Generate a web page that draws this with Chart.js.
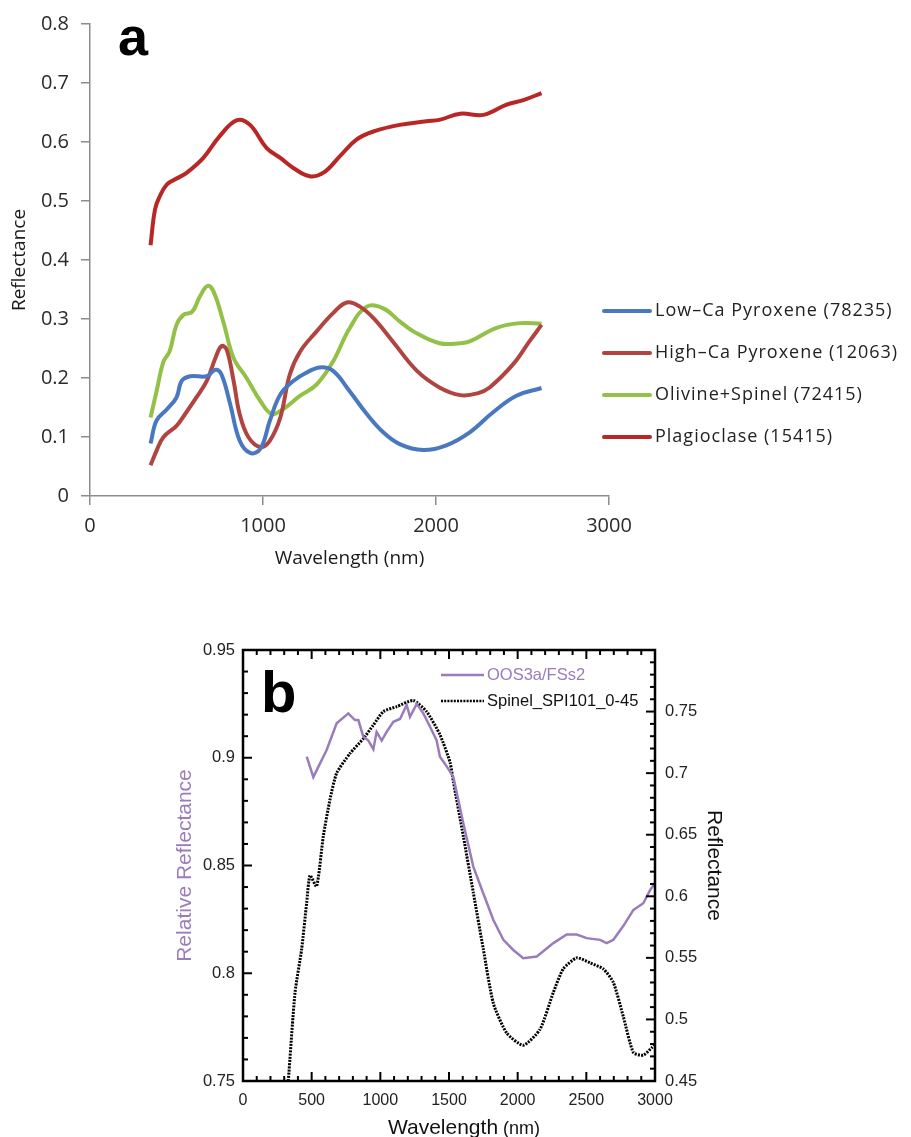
<!DOCTYPE html>
<html>
<head>
<meta charset="utf-8">
<script src="https://cdn.jsdelivr.net/npm/chart.js@4.4.0/dist/chart.umd.min.js"></script>
<style>
  body { margin: 0; background: #fff; }
  #wrap { position: relative; width: 911px; height: 1137px; overflow: hidden; }
  canvas { position: absolute; left: 0; }
  #chartA { top: 0; }
  #chartB { top: 600px; }
</style>
</head>
<body>
<div id="wrap">
  <canvas id="chartA" width="911" height="590"></canvas>
  <canvas id="chartB" width="911" height="537"></canvas>
</div>
<script>
// ---- panel a data (wavelength nm / reflectance) ----
const lowCaWl   = [350, 385, 445, 500, 530, 580, 675, 725, 760, 810, 865, 925, 985, 1040, 1100, 1175, 1250, 1330, 1405, 1500, 1600, 1695, 1790, 1925, 2060, 2195, 2330, 2465, 2610];
const lowCaRefl = [0.089, 0.128, 0.147, 0.167, 0.195, 0.203, 0.203, 0.214, 0.206, 0.156, 0.094, 0.073, 0.080, 0.128, 0.172, 0.195, 0.209, 0.218, 0.212, 0.178, 0.139, 0.108, 0.088, 0.078, 0.086, 0.108, 0.142, 0.170, 0.183];

const highCaWl   = [350, 385, 425, 500, 550, 615, 675, 725, 760, 790, 830, 865, 915, 985, 1040, 1100, 1155, 1215, 1310, 1405, 1485, 1560, 1640, 1750, 1890, 2020, 2140, 2240, 2310, 2445, 2540, 2610];
const highCaRefl = [0.052, 0.077, 0.100, 0.119, 0.139, 0.167, 0.195, 0.234, 0.254, 0.248, 0.195, 0.139, 0.100, 0.083, 0.094, 0.133, 0.206, 0.245, 0.279, 0.310, 0.328, 0.321, 0.301, 0.262, 0.212, 0.184, 0.171, 0.174, 0.184, 0.223, 0.262, 0.290];

const olivineWl   = [350, 385, 425, 460, 500, 540, 590, 635, 680, 715, 770, 830, 905, 985, 1050, 1115, 1215, 1310, 1405, 1500, 1600, 1695, 1790, 1870, 2020, 2140, 2195, 2350, 2485, 2610];
const olivineRefl = [0.133, 0.178, 0.228, 0.245, 0.290, 0.307, 0.312, 0.338, 0.356, 0.346, 0.296, 0.234, 0.200, 0.161, 0.139, 0.147, 0.170, 0.189, 0.228, 0.284, 0.321, 0.318, 0.296, 0.279, 0.259, 0.259, 0.262, 0.285, 0.293, 0.292];

const plagWl   = [350, 376, 405, 445, 500, 560, 655, 750, 850, 925, 1020, 1100, 1175, 1270, 1350, 1445, 1540, 1640, 1790, 1945, 2025, 2140, 2275, 2405, 2505, 2610];
const plagRefl = [0.425, 0.486, 0.509, 0.528, 0.538, 0.548, 0.573, 0.610, 0.637, 0.629, 0.590, 0.573, 0.556, 0.542, 0.548, 0.576, 0.604, 0.618, 0.629, 0.635, 0.638, 0.648, 0.646, 0.663, 0.671, 0.683];

const seriesNamesA = ['Low\u2013Ca Pyroxene (78235)', 'High\u2013Ca Pyroxene (12063)', 'Olivine+Spinel (72415)', 'Plagioclase (15415)'];

// ---- panel b data ----
const spinelWl   = [330, 379, 427, 464, 488, 536, 585, 634, 682, 779, 876, 949, 1022, 1119, 1240, 1337, 1435, 1507, 1532, 1604, 1677, 1750, 1823, 1920, 2041, 2163, 2260, 2332, 2430, 2527, 2624, 2697, 2770, 2843, 2915, 2976, 3000];
const spinelRefl = [0.450, 0.522, 0.557, 0.595, 0.617, 0.608, 0.649, 0.679, 0.700, 0.716, 0.728, 0.739, 0.750, 0.754, 0.759, 0.750, 0.731, 0.709, 0.693, 0.649, 0.603, 0.557, 0.513, 0.489, 0.479, 0.492, 0.522, 0.541, 0.550, 0.546, 0.541, 0.530, 0.502, 0.473, 0.471, 0.477, 0.480];

const oosWl   = [464, 512, 609, 682, 767, 815, 840, 876, 913, 949, 973, 1010, 1046, 1095, 1143, 1192, 1216, 1265, 1313, 1362, 1410, 1434, 1483, 1532, 1604, 1677, 1750, 1823, 1896, 1968, 2041, 2139, 2260, 2357, 2430, 2503, 2600, 2648, 2697, 2770, 2843, 2915, 2964, 3000];
const oosRefl = [0.9005, 0.891, 0.9036, 0.916, 0.9206, 0.9175, 0.9175, 0.9098, 0.908, 0.904, 0.912, 0.908, 0.912, 0.9167, 0.918, 0.9245, 0.919, 0.925, 0.9206, 0.9144, 0.908, 0.9005, 0.896, 0.891, 0.8696, 0.8495, 0.837, 0.8247, 0.8155, 0.8108, 0.807, 0.8078, 0.814, 0.818, 0.818, 0.8163, 0.8155, 0.814, 0.8155, 0.822, 0.8294, 0.8325, 0.8386, 0.8418];

const seriesNamesB = ['OOS3a/FSs2', 'Spinel_SPI101_0-45'];

const pts = (xs, ys) => xs.map((x, i) => ({ x: x, y: ys[i] }));
const plain = v => String(Number(v.toFixed(2)));

// ---------- panel a ----------
const axisGray = '#8c8c8c';
const fontA = '"Open Sans", sans-serif';

const panelA = {
  id: 'panelA',
  afterDraw(chart) {
    const ctx = chart.ctx;
    ctx.save();
    ctx.fillStyle = '#000';
    ctx.font = 'bold 54px "Liberation Sans", Arial, sans-serif';
    ctx.fillText('a', 118, 55);

    ctx.font = '18px ' + fontA;
    ctx.letterSpacing = '1px';
    ctx.textBaseline = 'middle';
    chart.data.datasets.forEach((ds, i) => {
      const y = 311 + i * 42;
      ctx.strokeStyle = ds.borderColor;
      ctx.lineWidth = 4;
      ctx.lineCap = 'round';
      ctx.beginPath();
      ctx.moveTo(604, y);
      ctx.lineTo(650, y);
      ctx.stroke();
      ctx.fillStyle = '#222';
      ctx.fillText(ds.label, 655, y);
    });
    ctx.restore();
  }
};

const colorsA = ['#4a78c0', '#b04441', '#93c047', '#b82626'];
const dataA = [pts(lowCaWl, lowCaRefl), pts(highCaWl, highCaRefl), pts(olivineWl, olivineRefl), pts(plagWl, plagRefl)];

new Chart(document.getElementById('chartA'), {
  type: 'line',
  data: {
    datasets: dataA.map((d, i) => ({
      label: seriesNamesA[i],
      data: d,
      borderColor: colorsA[i],
      borderWidth: 4,
      pointRadius: 0,
      tension: 0.4,
      fill: false
    }))
  },
  options: {
    responsive: false,
    animation: false,
    layout: { padding: { top: 20, right: 302, left: 0, bottom: 0 } },
    plugins: { legend: { display: false }, tooltip: { enabled: false } },
    scales: {
      x: {
        type: 'linear', min: 0, max: 3000,
        ticks: { stepSize: 1000, color: '#2a2a2a', font: { family: fontA, size: 20 }, padding: 9, callback: v => String(v) },
        grid: { drawOnChartArea: false, tickLength: 9, color: axisGray, lineWidth: 1.5 },
        border: { color: axisGray, width: 1.5 },
        title: { display: true, text: 'Wavelength (nm)', color: '#1a1a1a', font: { family: fontA, size: 19 }, padding: { top: 0, bottom: 20 } },
        afterFit: s => { s.height = 94; }
      },
      y: {
        min: 0, max: 0.8,
        ticks: { stepSize: 0.1, color: '#2a2a2a', font: { family: fontA, size: 20 }, padding: 12, callback: plain },
        grid: { drawOnChartArea: false, tickLength: 9, color: axisGray, lineWidth: 1.5 },
        border: { color: axisGray, width: 1.5 },
        title: { display: true, text: 'Reflectance', color: '#1a1a1a', font: { family: fontA, size: 19 }, padding: { top: 8, bottom: 0 } },
        afterFit: s => { s.width = 90; }
      }
    }
  },
  plugins: [panelA]
});

// ---------- panel b ----------
const fontB = '"Liberation Sans", Arial, sans-serif';
const purple = '#9b7cba';

const panelB = {
  id: 'panelB',
  afterDatasetsDraw(chart) {
    const { ctx, chartArea: a, scales } = chart;
    ctx.save();
    ctx.strokeStyle = '#000';
    ctx.lineCap = 'butt';
    const seg = (x1, y1, x2, y2) => { ctx.beginPath(); ctx.moveTo(x1, y1); ctx.lineTo(x2, y2); ctx.stroke(); };

    ctx.lineWidth = 2;
    for (let k = 0; k <= 30; k++) {
      const x = scales.x.getPixelForValue(k * 100);
      const len = k % 5 === 0 ? 9 : 5;
      seg(x, a.bottom, x, a.bottom - len);
      seg(x, a.top, x, a.top + len);
    }
    for (let k = 0; k <= 20; k++) {
      const y = scales.y.getPixelForValue(0.75 + k * 0.01);
      seg(a.left, y, a.left + (k % 5 === 0 ? 9 : 5), y);
    }
    for (let k = 0; k <= 35; k++) {
      const y = scales.y1.getPixelForValue(0.45 + k * 0.01);
      seg(a.right, y, a.right - (k % 5 === 0 ? 9 : 5), y);
    }
    ctx.lineWidth = 2.5;
    ctx.strokeRect(a.left, a.top, a.right - a.left, a.bottom - a.top);

    // legend
    ctx.font = '16.5px ' + fontB;
    ctx.textBaseline = 'middle';
    chart.data.datasets.forEach((ds, i) => {
      const y = 75 + i * 26;
      ctx.strokeStyle = ds.borderColor;
      ctx.lineWidth = 2.5;
      ctx.setLineDash(ds.borderDash || []);
      seg(441, y, 484, y);
      ctx.setLineDash([]);
      ctx.fillStyle = i === 0 ? purple : '#111';
      ctx.fillText(ds.label, 487, y);
    });

    // panel letter
    ctx.textBaseline = 'alphabetic';
    ctx.fillStyle = '#000';
    ctx.font = 'bold 58px ' + fontB;
    ctx.fillText('b', 261, 112);

    // x title with smaller unit
    ctx.fillStyle = '#111';
    ctx.font = '21px ' + fontB;
    const w1 = ctx.measureText('Wavelength').width;
    ctx.font = '18px ' + fontB;
    const w2 = ctx.measureText(' (nm)').width;
    const x0 = (a.left + a.right) / 2 + 15 - (w1 + w2) / 2;
    ctx.font = '21px ' + fontB;
    ctx.fillText('Wavelength', x0, 534);
    ctx.font = '18px ' + fontB;
    ctx.fillText(' (nm)', x0 + w1, 534);
    ctx.restore();
  }
};

new Chart(document.getElementById('chartB'), {
  type: 'line',
  data: {
    datasets: [
      {
        label: seriesNamesB[0],
        data: pts(oosWl, oosRefl),
        yAxisID: 'y',
        borderColor: purple,
        borderWidth: 2.5,
        pointRadius: 0,
        tension: 0,
        fill: false
      },
      {
        label: seriesNamesB[1],
        data: pts(spinelWl, spinelRefl),
        yAxisID: 'y1',
        borderColor: '#000',
        borderWidth: 3,
        borderDash: [2, 1.2],
        pointRadius: 0,
        tension: 0.2,
        fill: false
      }
    ]
  },
  options: {
    responsive: false,
    animation: false,
    layout: { padding: { top: 50, right: 0, left: 0, bottom: 0 } },
    plugins: { legend: { display: false }, tooltip: { enabled: false } },
    scales: {
      x: {
        type: 'linear', min: 0, max: 3000,
        ticks: { stepSize: 500, color: '#222', font: { family: fontB, size: 16 }, padding: 10, callback: v => String(v) },
        grid: { display: false, drawTicks: false },
        border: { display: false },
        afterFit: s => { s.height = 56; }
      },
      y: {
        position: 'left', min: 0.75, max: 0.95,
        ticks: { stepSize: 0.05, color: '#222', font: { family: fontB, size: 16.5 }, padding: 8, callback: plain },
        grid: { display: false, drawTicks: false },
        border: { display: false },
        title: { display: true, text: 'Relative Reflectance', color: purple, font: { family: fontB, size: 21 }, padding: { top: 173, bottom: 0 } },
        afterFit: s => { s.width = 243; }
      },
      y1: {
        position: 'right', min: 0.45, max: 0.8,
        ticks: {
          stepSize: 0.05, color: '#222', font: { family: fontB, size: 16.5 }, padding: 10,
          callback: v => (v > 0.79 ? '' : plain(v))
        },
        grid: { display: false, drawTicks: false },
        border: { display: false },
        title: { display: true, text: 'Reflectance', color: '#111', font: { family: fontB, size: 21 }, padding: { top: 185, bottom: 0 } },
        afterFit: s => { s.width = 256; }
      }
    }
  },
  plugins: [panelB]
});
</script>
</body>
</html>
